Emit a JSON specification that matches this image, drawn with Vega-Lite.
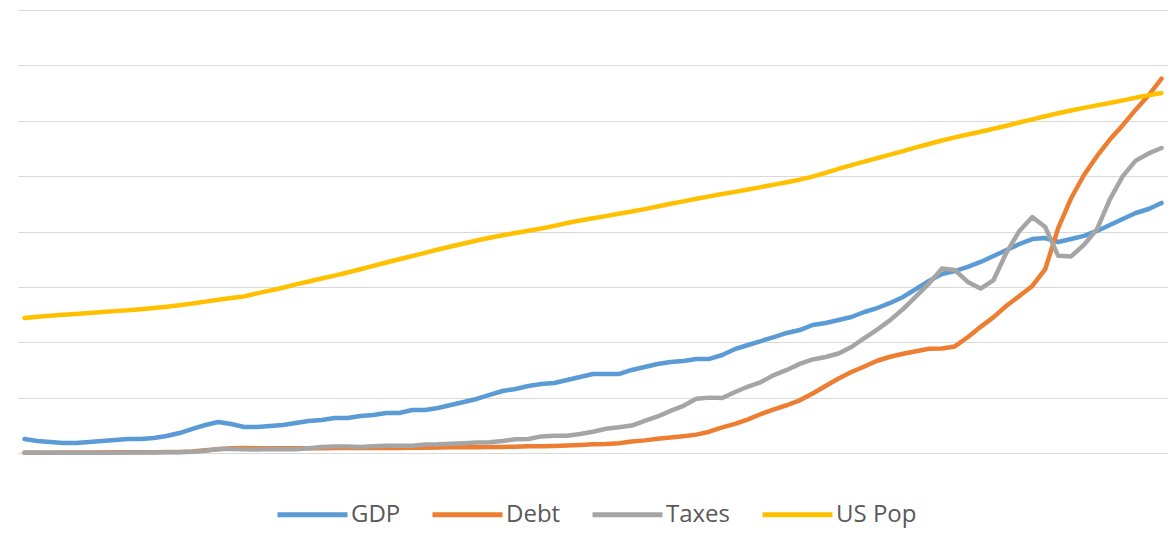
{
  "$schema": "https://vega.github.io/schema/vega-lite/v6.json",
  "width": 1150,
  "height": 443,
  "autosize": {"type": "none"},
  "padding": {"left": 18, "top": 10, "right": 0, "bottom": 101},
  "background": "white",
  "config": {"view": {"stroke": null}, "font": "Open Sans"},
  "data": {"values": [
    {"year":1929,"GDP":12.6,"Debt":0.3,"Taxes":0.4,"US Pop":121.8},
    {"year":1930,"GDP":10.8,"Debt":0.3,"Taxes":0.4,"US Pop":123.1},
    {"year":1931,"GDP":9.9,"Debt":0.3,"Taxes":0.3,"US Pop":124.0},
    {"year":1932,"GDP":9.0,"Debt":0.4,"Taxes":0.2,"US Pop":124.8},
    {"year":1933,"GDP":9.0,"Debt":0.4,"Taxes":0.2,"US Pop":125.6},
    {"year":1934,"GDP":9.9,"Debt":0.5,"Taxes":0.3,"US Pop":126.4},
    {"year":1935,"GDP":10.8,"Debt":0.5,"Taxes":0.3,"US Pop":127.3},
    {"year":1936,"GDP":11.7,"Debt":0.6,"Taxes":0.3,"US Pop":128.1},
    {"year":1937,"GDP":12.6,"Debt":0.6,"Taxes":0.4,"US Pop":128.8},
    {"year":1938,"GDP":12.6,"Debt":0.6,"Taxes":0.5,"US Pop":129.8},
    {"year":1939,"GDP":13.5,"Debt":0.7,"Taxes":0.5,"US Pop":130.9},
    {"year":1940,"GDP":15.3,"Debt":0.9,"Taxes":0.6,"US Pop":132.1},
    {"year":1941,"GDP":18.0,"Debt":1.0,"Taxes":0.7,"US Pop":133.4},
    {"year":1942,"GDP":21.7,"Debt":1.4,"Taxes":1.2,"US Pop":134.9},
    {"year":1943,"GDP":25.3,"Debt":2.4,"Taxes":2.0,"US Pop":136.7},
    {"year":1944,"GDP":28.0,"Debt":3.4,"Taxes":3.6,"US Pop":138.4},
    {"year":1945,"GDP":26.2,"Debt":4.4,"Taxes":3.7,"US Pop":139.9},
    {"year":1946,"GDP":23.5,"Debt":4.5,"Taxes":3.3,"US Pop":141.4},
    {"year":1947,"GDP":23.5,"Debt":4.3,"Taxes":3.2,"US Pop":144.1},
    {"year":1948,"GDP":24.4,"Debt":4.2,"Taxes":3.5,"US Pop":146.6},
    {"year":1949,"GDP":25.3,"Debt":4.3,"Taxes":3.3,"US Pop":149.2},
    {"year":1950,"GDP":27.1,"Debt":4.3,"Taxes":3.3,"US Pop":152.3},
    {"year":1951,"GDP":28.9,"Debt":4.3,"Taxes":4.3,"US Pop":154.9},
    {"year":1952,"GDP":29.8,"Debt":4.4,"Taxes":5.5,"US Pop":157.6},
    {"year":1953,"GDP":31.6,"Debt":4.5,"Taxes":5.8,"US Pop":160.2},
    {"year":1954,"GDP":31.6,"Debt":4.5,"Taxes":5.8,"US Pop":163.0},
    {"year":1955,"GDP":33.4,"Debt":4.6,"Taxes":5.4,"US Pop":165.9},
    {"year":1956,"GDP":34.3,"Debt":4.5,"Taxes":6.2,"US Pop":168.9},
    {"year":1957,"GDP":36.1,"Debt":4.5,"Taxes":6.6,"US Pop":172.0},
    {"year":1958,"GDP":36.1,"Debt":4.6,"Taxes":6.6,"US Pop":174.9},
    {"year":1959,"GDP":38.8,"Debt":4.8,"Taxes":6.6,"US Pop":177.8},
    {"year":1960,"GDP":38.8,"Debt":4.8,"Taxes":7.7,"US Pop":180.7},
    {"year":1961,"GDP":40.6,"Debt":4.9,"Taxes":7.8,"US Pop":183.7},
    {"year":1962,"GDP":43.3,"Debt":5.1,"Taxes":8.3,"US Pop":186.5},
    {"year":1963,"GDP":46.0,"Debt":5.2,"Taxes":8.9,"US Pop":189.2},
    {"year":1964,"GDP":48.8,"Debt":5.3,"Taxes":9.4,"US Pop":191.9},
    {"year":1965,"GDP":52.4,"Debt":5.4,"Taxes":9.7,"US Pop":194.3},
    {"year":1966,"GDP":56.0,"Debt":5.5,"Taxes":10.9,"US Pop":196.6},
    {"year":1967,"GDP":57.8,"Debt":5.6,"Taxes":12.4,"US Pop":198.7},
    {"year":1968,"GDP":60.5,"Debt":6.0,"Taxes":12.7,"US Pop":200.7},
    {"year":1969,"GDP":62.3,"Debt":6.1,"Taxes":15.0,"US Pop":202.7},
    {"year":1970,"GDP":63.2,"Debt":6.4,"Taxes":15.5,"US Pop":205.1},
    {"year":1971,"GDP":65.9,"Debt":6.8,"Taxes":15.5,"US Pop":207.7},
    {"year":1972,"GDP":68.6,"Debt":7.3,"Taxes":17.2,"US Pop":209.9},
    {"year":1973,"GDP":71.3,"Debt":7.8,"Taxes":19.2,"US Pop":211.9},
    {"year":1974,"GDP":71.3,"Debt":8.1,"Taxes":21.9,"US Pop":213.9},
    {"year":1975,"GDP":71.3,"Debt":8.9,"Taxes":23.2,"US Pop":216.0},
    {"year":1976,"GDP":75.0,"Debt":10.3,"Taxes":24.8,"US Pop":218.0},
    {"year":1977,"GDP":77.7,"Debt":11.4,"Taxes":29.0,"US Pop":220.2},
    {"year":1978,"GDP":80.4,"Debt":12.8,"Taxes":33.0,"US Pop":222.6},
    {"year":1979,"GDP":82.2,"Debt":13.9,"Taxes":38.0,"US Pop":225.1},
    {"year":1980,"GDP":83.1,"Debt":15.2,"Taxes":42.6,"US Pop":227.2},
    {"year":1981,"GDP":84.9,"Debt":16.6,"Taxes":49.0,"US Pop":229.5},
    {"year":1982,"GDP":84.9,"Debt":19.2,"Taxes":50.0,"US Pop":231.7},
    {"year":1983,"GDP":88.5,"Debt":23.1,"Taxes":49.7,"US Pop":233.8},
    {"year":1984,"GDP":93.9,"Debt":26.3,"Taxes":55.1,"US Pop":235.8},
    {"year":1985,"GDP":97.5,"Debt":30.4,"Taxes":60.0,"US Pop":237.9},
    {"year":1986,"GDP":101.1,"Debt":35.2,"Taxes":64.1,"US Pop":240.1},
    {"year":1987,"GDP":104.7,"Debt":39.4,"Taxes":70.4,"US Pop":242.3},
    {"year":1988,"GDP":108.4,"Debt":43.1,"Taxes":75.0,"US Pop":244.5},
    {"year":1989,"GDP":111.0,"Debt":47.6,"Taxes":80.5,"US Pop":246.8},
    {"year":1990,"GDP":115.6,"Debt":53.7,"Taxes":84.5,"US Pop":249.6},
    {"year":1991,"GDP":117.4,"Debt":60.5,"Taxes":86.7,"US Pop":253.0},
    {"year":1992,"GDP":120.1,"Debt":67.3,"Taxes":89.8,"US Pop":256.5},
    {"year":1993,"GDP":122.8,"Debt":73.1,"Taxes":95.7,"US Pop":259.9},
    {"year":1994,"GDP":127.3,"Debt":78.1,"Taxes":103.8,"US Pop":263.1},
    {"year":1995,"GDP":130.9,"Debt":83.3,"Taxes":111.5,"US Pop":266.3},
    {"year":1996,"GDP":135.5,"Debt":86.9,"Taxes":120.0,"US Pop":269.4},
    {"year":1997,"GDP":140.9,"Debt":89.6,"Taxes":130.0,"US Pop":272.6},
    {"year":1998,"GDP":148.1,"Debt":91.8,"Taxes":141.5,"US Pop":275.9},
    {"year":1999,"GDP":155.3,"Debt":94.1,"Taxes":153.0,"US Pop":279.0},
    {"year":2000,"GDP":161.6,"Debt":94.3,"Taxes":166.5,"US Pop":282.2},
    {"year":2001,"GDP":164.3,"Debt":96.2,"Taxes":165.2,"US Pop":285.0},
    {"year":2002,"GDP":168.0,"Debt":104.5,"Taxes":154.5,"US Pop":287.6},
    {"year":2003,"GDP":172.5,"Debt":113.9,"Taxes":148.5,"US Pop":290.1},
    {"year":2004,"GDP":177.9,"Debt":122.7,"Taxes":156.2,"US Pop":292.8},
    {"year":2005,"GDP":183.3,"Debt":132.9,"Taxes":181.0,"US Pop":295.5},
    {"year":2006,"GDP":188.7,"Debt":141.8,"Taxes":200.5,"US Pop":298.4},
    {"year":2007,"GDP":193.2,"Debt":150.8,"Taxes":213.1,"US Pop":301.2},
    {"year":2008,"GDP":194.1,"Debt":166.0,"Taxes":204.0,"US Pop":304.1},
    {"year":2009,"GDP":190.5,"Debt":203.0,"Taxes":178.0,"US Pop":306.8},
    {"year":2010,"GDP":193.2,"Debt":230.0,"Taxes":177.5,"US Pop":309.3},
    {"year":2011,"GDP":196.0,"Debt":251.0,"Taxes":188.0,"US Pop":311.6},
    {"year":2012,"GDP":200.5,"Debt":268.0,"Taxes":202.0,"US Pop":313.9},
    {"year":2013,"GDP":205.9,"Debt":283.0,"Taxes":229.0,"US Pop":316.1},
    {"year":2014,"GDP":211.3,"Debt":296.0,"Taxes":250.0,"US Pop":318.4},
    {"year":2015,"GDP":216.7,"Debt":310.0,"Taxes":264.0,"US Pop":320.7},
    {"year":2016,"GDP":220.3,"Debt":323.0,"Taxes":270.5,"US Pop":323.1},
    {"year":2017,"GDP":225.8,"Debt":338.0,"Taxes":275.4,"US Pop":325.1}
  ]},
  "transform": [{"fold": ["GDP", "Debt", "Taxes", "US Pop"], "as": ["series", "value"]}],
  "mark": {"type": "line", "strokeWidth": 4.5, "strokeCap": "round", "strokeJoin": "round"},
  "encoding": {
    "x": {"field": "year", "type": "quantitative", "scale": {"domain": [1928.5, 2017.5], "nice": false, "zero": false}, "axis": null},
    "y": {"field": "value", "type": "quantitative", "scale": {"domain": [0, 400], "nice": false},
      "axis": {"values": [0, 50, 100, 150, 200, 250, 300, 350, 400], "grid": true, "gridColor": "#d9d9d9", "gridWidth": 1, "labels": false, "ticks": false, "domain": false, "title": null}},
    "color": {"field": "series", "type": "nominal",
      "scale": {"domain": ["GDP", "Debt", "Taxes", "US Pop"], "range": ["#5b9bd5", "#ed7d31", "#a5a5a5", "#ffc000"]},
      "legend": {"orient": "none", "legendX": 257, "legendY": 467, "direction": "horizontal", "title": null,
        "symbolType": "stroke", "symbolSize": 4900, "symbolStrokeWidth": 5, "labelFontSize": 24, "labelColor": "#595959",
        "labelFont": "Open Sans", "labelOffset": 1, "columnPadding": 21, "padding": 0}}
  }
}
